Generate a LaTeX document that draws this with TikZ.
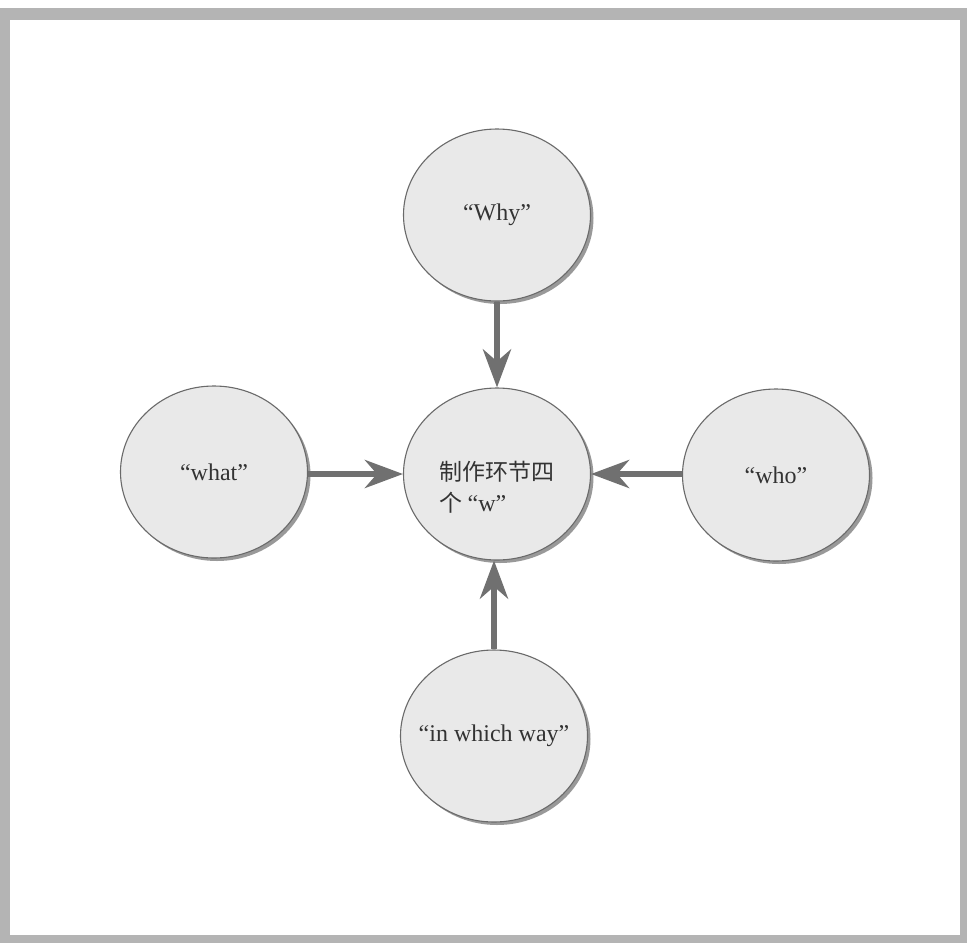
\documentclass[tikz,border=0pt]{standalone}
\usepackage{fontspec}
\setmainfont{Liberation Serif}
\newfontfamily\cjk{Noto Sans CJK SC}
\usetikzlibrary{arrows.meta,shapes.geometric,shadows}

\definecolor{bandgray}{HTML}{B4B4B4}
\definecolor{bubblefill}{HTML}{E9E9E9}
\definecolor{bubbleline}{HTML}{6A6A6A}
\definecolor{linkgray}{HTML}{707070}
\definecolor{inkgray}{HTML}{333333}

\tikzset{
  bubble/.style={ellipse, draw=bubbleline, line width=1.1pt, fill=bubblefill,
    minimum width=187pt, minimum height=172pt, inner sep=0pt,
    text=inkgray, font=\fontsize{24}{28}\selectfont,
    drop shadow={shadow xshift=3pt, shadow yshift=-3pt, fill=black!40, opacity=1}},
  link/.style={draw=linkgray, line width=6pt,
    -{Stealth[length=38pt,width=28pt,inset=12pt]}}
}

\begin{document}
\begin{tikzpicture}[x=1pt, y=-1pt, line join=round]
    \useasboundingbox (0,0) rectangle (967,943);
    % page frame
    \fill[bandgray] (0,8) rectangle (967,943);
    \fill[white] (10,20) rectangle (960,935);

    \node[bubble] (why) at (497,215) {“Why”};
    \node[bubble, font=\cjk\fontsize{23}{31}\selectfont] (hub) at (497,474)
      {\raisebox{-22pt}[0pt][0pt]{\begin{tabular}{@{}l@{}}制作环节四\\个 {\rmfamily\fontsize{24}{31}\selectfont “w”}\end{tabular}}};
    \node[bubble] (what) at (214,472) {“what”};
    \node[bubble] (who) at (776,475) {“who”};
    \node[bubble, inner xsep=-10pt] (way) at (494,736) {“in which way”};

    \draw[link] (why.south) -- (hub.north);
    \draw[link] (what.east |- 0,474) -- (hub.west |- 0,474);
    \draw[link] (who.west |- 0,474) -- (hub.east |- 0,474);
    \draw[link] (way.north) -- (way.north |- hub.south);
  \end{tikzpicture}
\end{document}
